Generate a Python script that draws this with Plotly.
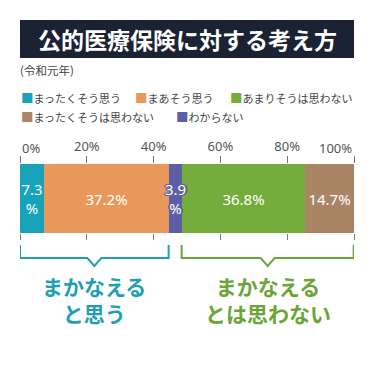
import plotly.graph_objects as go

# ---- data ----
categories = ["まったくそう思う", "まあそう思う", "わからない", "あまりそうは思わない", "まったくそうは思わない"]
values = [7.3, 37.2, 3.9, 36.8, 14.7]
colors = ["#17a3b9", "#e8985b", "#5c5fa6", "#74ad3b", "#a98566"]
legend_order = ["まったくそう思う", "まあそう思う", "あまりそうは思わない", "まったくそうは思わない", "わからない"]
tick_values = [0, 20, 40, 60, 80, 100]
title_text = "公的医療保険に対する考え方"
subtitle_text = "(令和元年)"
group_labels = ["まかなえる<br>と思う", "まかなえる<br>とは思わない"]
group_members = [[0, 1], [3, 4]]
group_colors = ["#1e9fb4", "#6aa537"]

W = H = 375
FONT = "Noto Sans CJK JP"
NUMFONT = "Noto Sans"

def px_x(p):
    return p / W

def px_y(p):
    return 1 - p / H

fig = go.Figure()

# cumulative bases (explicit so narrow segments can be drawn on top)
bases = [0]
for v in values[:-1]:
    bases.append(bases[-1] + v)

draw_order = sorted(range(len(values)), key=lambda i: -values[i])
for i in draw_order:
    cat, v, c, b = categories[i], values[i], colors[i], bases[i]
    label = f"{v}<br>%" if v < 10 else f"{v}%"
    tf = dict(color="white", size=15, family=NUMFONT)
    if v < 5:
        tf["shadow"] = ("1px 1px 0 %s, -1px -1px 0 %s, 1px -1px 0 %s, -1px 1px 0 %s, "
                        "2px 0 0 %s, -2px 0 0 %s" % (c, c, c, c, c, c))
    fig.add_trace(go.Bar(
        x=[v], base=[b], y=[0], orientation="h", name=cat,
        marker=dict(color=c, line=dict(width=0)),
        text=[label], textposition="inside", insidetextanchor="middle",
        textangle=0, constraintext="none", insidetextfont=tf,
        cliponaxis=False, showlegend=False, hoverinfo="skip", width=1,
    ))

# invisible trace for the bottom tick axis
fig.add_trace(go.Scatter(x=[None], y=[None], xaxis="x2", yaxis="y",
                         showlegend=False, hoverinfo="skip"))

x0, x1 = 20, 354
ybar_top, ybar_bot = 164, 233

inner_ticks = tick_values[1:-1]
fig.update_layout(
    width=W, height=H,
    margin=dict(l=0, r=0, t=0, b=0, autoexpand=False),
    paper_bgcolor="white", plot_bgcolor="white",
    barmode="overlay", bargap=0,
    showlegend=False,
    font=dict(family=FONT, color="#444"),
    xaxis=dict(domain=[px_x(x0), px_x(x1)], range=[0, 100], side="top",
               tickvals=tick_values,
               ticktext=["" if t in (tick_values[0], tick_values[-1]) else f"{t}%" for t in tick_values],
               ticks="outside", ticklen=7, tickwidth=1.3, tickcolor="#777",
               tickfont=dict(size=13, color="#555", family=NUMFONT),
               showgrid=False, zeroline=False, showline=False, fixedrange=True),
    xaxis2=dict(domain=[px_x(x0), px_x(x1)], range=[0, 100], overlaying="x", anchor="y",
                side="bottom", tickvals=tick_values, showticklabels=False,
                ticks="outside", ticklen=6, tickwidth=1.3, tickcolor="#777",
                showgrid=False, zeroline=False, showline=False),
    yaxis=dict(domain=[px_y(ybar_bot), px_y(ybar_top)], range=[-0.5, 0.5],
               visible=False, fixedrange=True),
)

shapes = []
annotations = []

# end tick labels aligned inward like the reference
annotations.append(dict(text=f"{tick_values[0]}%", xref="x", yref="paper",
                        x=tick_values[0], y=px_y(148), showarrow=False,
                        xanchor="left", yanchor="middle",
                        font=dict(size=13, color="#555", family=NUMFONT)))
annotations.append(dict(text=f"{tick_values[-1]}%", xref="x", yref="paper",
                        x=tick_values[-1], y=px_y(148), showarrow=False,
                        xanchor="right", yanchor="middle",
                        font=dict(size=13, color="#555", family=NUMFONT)))

# title box
shapes.append(dict(type="rect", xref="paper", yref="paper",
                   x0=px_x(20), x1=px_x(354), y0=px_y(58), y1=px_y(20),
                   fillcolor="#1b2234", line=dict(width=0), layer="below"))
annotations.append(dict(text=f"<b>{title_text}</b>", xref="paper", yref="paper",
                        x=px_x(187), y=px_y(39), showarrow=False,
                        xanchor="center", yanchor="middle",
                        font=dict(size=23, color="white", family=FONT)))
annotations.append(dict(text=subtitle_text, xref="paper", yref="paper",
                        x=px_x(18), y=px_y(70), showarrow=False,
                        xanchor="left", yanchor="middle",
                        font=dict(size=11.5, color="#444", family=FONT)))

# legend (manual, to match flowing layout)
legend_pos = [(19, 98), (133, 98), (228, 98), (19, 116), (174, 116)]
for name, (lx, ly) in zip(legend_order, legend_pos):
    c = colors[categories.index(name)]
    annotations.append(dict(
        text=f'<span style="color:{c};font-size:12.5px">■</span>{name}',
        xref="paper", yref="paper", x=px_x(lx), y=px_y(ly),
        showarrow=False, xanchor="left", yanchor="middle",
        font=dict(size=11, color="#444", family=FONT)))

# brackets and group labels
cum = [0]
for v in values:
    cum.append(cum[-1] + v)
yb_top, yb_bot, yb_notch = 245, 258, 266
notch_half = 7 / (x1 - x0) * 100
for members, label, gc in zip(group_members, group_labels, group_colors):
    a = cum[members[0]]
    b = cum[members[-1] + 1]
    m = (a + b) / 2
    path = (f"M {a},{px_y(yb_top)} L {a},{px_y(yb_bot)} L {m - notch_half},{px_y(yb_bot)} "
            f"L {m},{px_y(yb_notch)} L {m + notch_half},{px_y(yb_bot)} L {b},{px_y(yb_bot)} "
            f"L {b},{px_y(yb_top)}")
    shapes.append(dict(type="path", xref="x", yref="paper", path=path,
                       line=dict(color=gc, width=2)))
    annotations.append(dict(text=f"<b>{label}</b>", xref="x", yref="paper",
                            x=m, y=px_y(299), showarrow=False,
                            xanchor="center", yanchor="middle",
                            font=dict(size=21, color=gc, family=FONT)))

fig.update_layout(shapes=shapes, annotations=annotations)
fig.write_html("out.html", config={"displayModeBar": False},
               post_script="document.body.style.margin='0';document.body.style.padding='0';")
